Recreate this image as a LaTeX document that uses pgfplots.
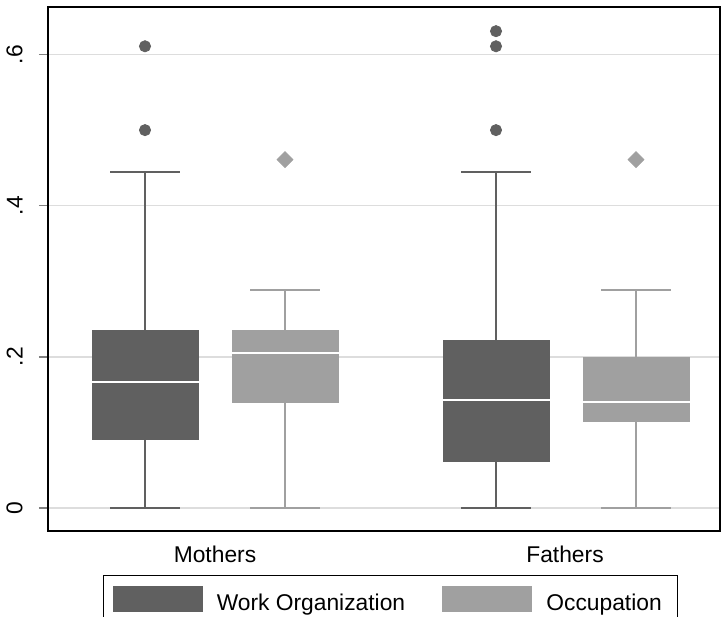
\documentclass[border=0pt]{standalone}
\usepackage{fontspec}
\setmainfont{Liberation Sans}
\usepackage{pgfplots}
\pgfplotsset{compat=1.18}
\usepgfplotslibrary{statistics}
\definecolor{wo}{HTML}{606060}
\definecolor{oc}{HTML}{A0A0A0}
\definecolor{gridc}{HTML}{DDDDDD}
\begin{document}
\begin{tikzpicture}
\begin{axis}[
  scale only axis, width=336pt, height=262pt,
  xmin=0, xmax=6.72, ymin=-0.0307, ymax=0.663,
  axis line style={black, line width=1pt},
  /pgf/number format/assume math mode=true,
  boxplot/draw direction=y,
  xtick={1.67,5.17}, xticklabels={Mothers,Fathers},
  xtick pos=bottom, ytick pos=left,
  major x tick style={draw=none},
  ytick={0,0.2,0.4,0.6}, yticklabels={0,.2,.4,.6},
  ymajorgrids, grid style={gridc, line width=0.8pt},
  major y tick style={color=gray, line width=0.8pt},
  tick align=outside, major tick length=4.5pt,
  yticklabel shift=8pt,
  yticklabel style={rotate=90, anchor=south, inner sep=0pt, font=\fontsize{11.4}{13}\selectfont},
  xticklabel style={anchor=north, inner sep=0pt, yshift=-3pt, font=\fontsize{11.4}{13}\selectfont},
  legend columns=2,
  legend cell align=left,
  legend style={at={(axis description cs:0.0818,-0.084)}, anchor=north west,
    draw=black, line width=0.6pt, font=\fontsize{11.4}{13}\selectfont,
    inner xsep=4.5pt, inner ysep=5pt,
    nodes={inner sep=0pt, text depth=0pt},
    /tikz/every odd column/.append style={column sep=7pt},
    /tikz/every even column/.append style={column sep=18.5pt}},
]
% Mothers - Work Organization
\addplot[forget plot, color=wo, mark=*, mark size=2.8pt, mark options={fill=wo, draw=none},
  boxplot prepared={draw position=0.97, median=0.166, upper quartile=0.236, lower quartile=0.0895,
    upper whisker=0.444, lower whisker=0, box extend=1.07, whisker extend=0.70,
    every box/.style={fill=wo, draw=none},
    every median/.style={draw=white, line width=1pt},
    every whisker/.style={draw=wo, line width=1pt}}]
  table[row sep=\\, y index=0] {0.611\\ 0.500\\};
% Mothers - Occupation
\addplot[forget plot, color=oc, mark=square*, mark size=2.8pt, mark options={fill=oc, draw=none, rotate=45},
  boxplot prepared={draw position=2.37, median=0.205, upper quartile=0.236, lower quartile=0.139,
    upper whisker=0.2887, lower whisker=0, box extend=1.07, whisker extend=0.70,
    every box/.style={fill=oc, draw=none},
    every median/.style={draw=white, line width=1pt},
    every whisker/.style={draw=oc, line width=1pt}}]
  table[row sep=\\, y index=0] {0.461\\};
% Fathers - Work Organization
\addplot[forget plot, color=wo, mark=*, mark size=2.8pt, mark options={fill=wo, draw=none},
  boxplot prepared={draw position=4.48, median=0.1428, upper quartile=0.2224, lower quartile=0.060,
    upper whisker=0.444, lower whisker=0, box extend=1.07, whisker extend=0.70,
    every box/.style={fill=wo, draw=none},
    every median/.style={draw=white, line width=1pt},
    every whisker/.style={draw=wo, line width=1pt}}]
  table[row sep=\\, y index=0] {0.631\\ 0.611\\ 0.500\\};
% Fathers - Occupation
\addplot[forget plot, color=oc, mark=square*, mark size=2.8pt, mark options={fill=oc, draw=none, rotate=45},
  boxplot prepared={draw position=5.88, median=0.140, upper quartile=0.200, lower quartile=0.114,
    upper whisker=0.2887, lower whisker=0, box extend=1.07, whisker extend=0.70,
    every box/.style={fill=oc, draw=none},
    every median/.style={draw=white, line width=1pt},
    every whisker/.style={draw=oc, line width=1pt}}]
  table[row sep=\\, y index=0] {0.461\\};
\addlegendimage{legend image code/.code={\fill[wo] (0pt,-4.5pt) rectangle (44.5pt,8pt);}}
\addlegendentry{Work Organization}
\addlegendimage{legend image code/.code={\fill[oc] (0pt,-4.5pt) rectangle (44.5pt,8pt);}}
\addlegendentry{Occupation\rule{3.5pt}{0pt}}
\end{axis}
\pgfresetboundingbox
\useasboundingbox (-24pt,-42.5pt) rectangle (336.5pt,265.5pt);
\end{tikzpicture}
\end{document}
